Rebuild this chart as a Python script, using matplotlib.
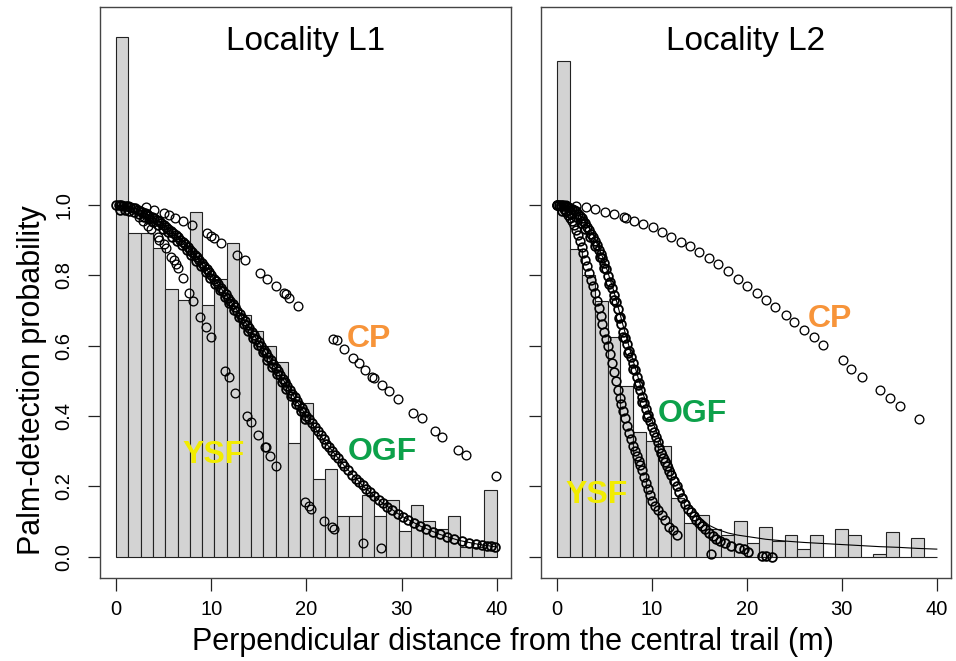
import numpy as np
import matplotlib
matplotlib.use('Agg')
import matplotlib.pyplot as plt

plt.rcParams['font.family'] = ['Liberation Sans', 'DejaVu Sans']

# histogram heights (scaled), L1 has 31 bins over 0-40 m, L2 has 30
hist_l1 = [1.476, 0.921, 0.921, 0.877, 0.760, 0.730, 0.980, 0.716, 0.790, 0.893,
           0.686, 0.642, 0.600, 0.553, 0.323, 0.437, 0.221, 0.249, 0.116, 0.116,
           0.176, 0.116, 0.162, 0.073, 0.146, 0.103, 0.080, 0.116, 0.029, 0.029, 0.190]
hist_l2 = [1.409, 0.874, 0.800, 0.727, 0.624, 0.485, 0.356, 0.330, 0.316, 0.167,
           0.096, 0.120, 0.080, 0.062, 0.102, 0.040, 0.086, 0.045, 0.061, 0.023,
           0.061, 0.0, 0.080, 0.061, 0.0, 0.008, 0.072, 0.0, 0.053, 0.0]

# L1 fitted detection probabilities per palm
cp1_x = [3.12, 3.93, 4.98, 5.58, 6.18, 7.05, 7.93, 9.54, 10.0, 10.3, 11.0, 12.7, 13.5,
         15.1, 15.9, 16.8, 17.6, 17.9, 18.2, 19.1, 22.8, 23.2, 23.9, 24.9, 25.5, 26.2,
         26.9, 27.1, 27.9, 28.7, 29.6, 31.2, 32.1, 33.5, 34.3, 35.9, 36.8, 39.9]
cp1_y = [0.995, 0.986, 0.976, 0.972, 0.962, 0.955, 0.943, 0.920, 0.912, 0.907, 0.893,
         0.858, 0.844, 0.808, 0.789, 0.770, 0.751, 0.746, 0.735, 0.713, 0.618, 0.615,
         0.591, 0.564, 0.550, 0.531, 0.512, 0.509, 0.489, 0.472, 0.448, 0.410, 0.394,
         0.358, 0.340, 0.304, 0.290, 0.231]

ysf1_x = [2.42, 2.87, 3.37, 3.65, 4.35, 4.53, 4.98, 5.23, 5.76, 6.03, 6.28, 6.46, 6.98,
          7.68, 8.03, 8.84, 9.44, 9.97, 11.4, 11.9, 12.5, 13.8, 14.2, 14.9, 15.6, 15.7,
          16.2, 16.8, 19.8, 20.3, 20.5, 21.8, 22.7, 22.9, 25.9, 27.8]
ysf1_y = [0.967, 0.955, 0.940, 0.931, 0.910, 0.901, 0.889, 0.877, 0.853, 0.844, 0.832,
          0.820, 0.792, 0.749, 0.727, 0.683, 0.654, 0.626, 0.528, 0.512, 0.465, 0.399,
          0.384, 0.347, 0.313, 0.311, 0.287, 0.259, 0.157, 0.145, 0.135, 0.103, 0.086,
          0.079, 0.039, 0.025]

ogf1_x = [0.00, 0.25, 0.50, 0.75, 1.00, 1.25, 1.50, 1.75, 2.00, 2.25, 2.50, 2.75, 3.00,
          3.25, 3.50, 3.75, 4.00, 4.25, 4.50, 4.75, 5.00, 5.25, 5.50, 5.75, 6.00, 6.25,
          6.50, 6.75, 7.00, 7.25, 7.50, 7.75, 8.00, 8.25, 8.50, 8.75, 9.00, 9.25, 9.50,
          9.75, 10.00, 10.25, 10.50, 10.75, 11.00, 11.25, 11.50, 11.75, 12.00, 12.25,
          12.50, 12.75, 13.00, 13.25, 13.50, 13.75, 14.00, 14.25, 14.50, 14.75, 15.00,
          15.25, 15.50, 15.75, 16.00, 16.25, 16.50, 16.75, 17.00, 17.25, 17.50, 17.75,
          18.00, 18.25, 18.50, 18.75, 19.00, 19.25, 19.50, 19.75, 20.00,
          20.3, 20.6, 20.9, 21.2, 21.5, 21.8, 22.1, 22.4, 22.7, 23.0, 23.3, 23.7, 24.0,
          24.4, 24.8, 25.2, 25.5, 25.9, 26.3, 26.7, 27.1, 27.6, 28.0, 28.5, 29.0, 29.6,
          30.1, 30.7, 31.3, 31.9, 32.6, 33.3, 34.0, 34.8, 35.5, 36.3, 37.1, 37.8, 38.5,
          39.0, 39.4, 39.8]
ogf1_y = [1.000, 0.999, 0.999, 0.998, 0.997, 0.996, 0.994, 0.992, 0.990, 0.987, 0.984,
          0.981, 0.978, 0.974, 0.970, 0.966, 0.962, 0.957, 0.953, 0.948, 0.943, 0.937,
          0.932, 0.926, 0.920, 0.914, 0.908, 0.901, 0.895, 0.888, 0.881, 0.873, 0.866,
          0.858, 0.851, 0.843, 0.835, 0.826, 0.818, 0.809, 0.800, 0.791, 0.783, 0.774,
          0.765, 0.756, 0.747, 0.737, 0.728, 0.719, 0.709, 0.700, 0.690, 0.680, 0.670,
          0.660, 0.650, 0.640, 0.630, 0.620, 0.610, 0.600, 0.589, 0.579, 0.568, 0.558,
          0.548, 0.537, 0.527, 0.517, 0.506, 0.496, 0.485, 0.475, 0.464, 0.454, 0.443,
          0.432, 0.422, 0.411, 0.400,
          0.392, 0.381, 0.370, 0.358, 0.347, 0.336, 0.322, 0.311, 0.300, 0.290, 0.280,
          0.268, 0.258, 0.246, 0.234, 0.222, 0.213, 0.203, 0.193, 0.183, 0.174, 0.162,
          0.153, 0.143, 0.134, 0.123, 0.114, 0.105, 0.096, 0.088, 0.080, 0.072, 0.064,
          0.057, 0.051, 0.045, 0.040, 0.037, 0.034, 0.032, 0.030, 0.029]
# second group of OGF palms in L1 (slightly lower probabilities, thickens the band)
ogf1b_x = [0.4, 0.9, 1.4, 1.9, 2.4, 2.9, 3.4, 3.9, 4.4, 4.9, 5.4, 5.9, 6.4, 6.9, 7.4,
           7.9, 8.4, 8.9, 9.4, 9.9, 10.4, 10.9, 11.4, 11.9, 12.4, 12.9, 13.4, 13.9,
           14.4, 14.9, 15.4, 15.9, 16.4, 16.9, 17.4, 17.9, 18.4, 18.9, 19.4, 19.9]
ogf1b_y = [0.987, 0.985, 0.982, 0.979, 0.973, 0.967, 0.960, 0.952, 0.942, 0.933, 0.922,
           0.910, 0.898, 0.886, 0.871, 0.857, 0.842, 0.826, 0.809, 0.792, 0.774, 0.757,
           0.738, 0.720, 0.701, 0.682, 0.662, 0.642, 0.622, 0.602, 0.581, 0.560, 0.540,
           0.519, 0.498, 0.477, 0.456, 0.435, 0.414, 0.392]

line1_x = [0, 2, 4, 6, 8, 10, 12, 14, 16, 18, 20, 22, 24, 26, 28, 30, 32, 34, 36, 38, 40]
line1_y = [1.0, 0.990, 0.962, 0.920, 0.866, 0.800, 0.728, 0.650, 0.568, 0.485, 0.400,
           0.325, 0.258, 0.200, 0.153, 0.116, 0.087, 0.064, 0.047, 0.036, 0.028]

# L2
cp2_x = [0.0, 1.0, 2.0, 3.05, 4.05, 5.1, 6.05, 7.1, 7.25, 8.15, 9.05, 10.1, 11.05, 12.0,
         13.05, 14.0, 15.0, 16.05, 17.0, 18.0, 19.05, 20.05, 21.05, 22.05, 23.0, 24.1,
         25.0, 26.0, 27.1, 28.05, 30.1, 31.0, 32.1, 34.05, 35.1, 36.1, 38.1]
cp2_y = [1.0, 0.999, 0.997, 0.993, 0.988, 0.981, 0.974, 0.967, 0.963, 0.955, 0.947,
         0.936, 0.924, 0.910, 0.896, 0.882, 0.867, 0.849, 0.832, 0.813, 0.790, 0.770,
         0.749, 0.730, 0.709, 0.687, 0.666, 0.645, 0.624, 0.602, 0.558, 0.535, 0.512,
         0.473, 0.451, 0.428, 0.391]

ysf2_x = [0.0, 0.4, 0.8, 1.0, 1.2, 1.4, 1.6, 1.8, 2.0, 2.2, 2.4, 2.6, 2.8, 3.0, 3.2, 3.4,
          3.6, 3.8, 4.0, 4.2, 4.4, 4.6, 4.8, 5.0, 5.2, 5.4, 5.6, 5.8, 6.0, 6.2, 6.4, 6.6,
          6.8, 7.0, 7.2, 7.4, 7.6, 7.8, 8.0, 8.2, 8.4, 8.6, 8.8, 9.0, 9.2, 9.4, 9.6, 9.8,
          10.0, 10.3, 10.6, 11.1, 11.4, 11.8, 12.2, 12.7, 16.2]
ysf2_y = [1.0, 0.997, 0.988, 0.980, 0.972, 0.964, 0.954, 0.942, 0.930, 0.914, 0.898,
          0.881, 0.863, 0.845, 0.826, 0.807, 0.788, 0.769, 0.750, 0.728, 0.706, 0.684,
          0.662, 0.640, 0.620, 0.600, 0.577, 0.551, 0.525, 0.499, 0.473, 0.451, 0.433,
          0.415, 0.394, 0.373, 0.353, 0.334, 0.315, 0.301, 0.287, 0.273, 0.260, 0.247,
          0.228, 0.209, 0.192, 0.176, 0.160, 0.145, 0.134, 0.119, 0.104, 0.086, 0.075,
          0.063, 0.008]

ogf2_x = [0.0, 0.2, 0.4, 0.6, 0.8, 1.0, 1.2, 1.4, 1.6, 1.8, 2.0, 2.2, 2.4, 2.6, 2.8, 3.0,
          3.2, 3.4, 3.6, 3.8, 4.0, 4.2, 4.4, 4.6, 4.8, 5.0, 5.2, 5.4, 5.6, 5.8, 6.0, 6.2,
          6.4, 6.6, 6.8, 7.0, 7.2, 7.4, 7.6, 7.8, 8.0, 8.2, 8.4, 8.6, 8.8, 9.0, 9.2, 9.4,
          9.6, 9.8, 10.0, 10.2, 10.4, 10.6, 10.8, 11.0, 11.2, 11.4, 11.6, 11.8, 12.0,
          12.3, 12.6, 12.9, 13.2, 13.5, 13.8, 14.1, 14.4, 14.7, 15.0, 15.3, 15.6, 16.0,
          16.4, 16.8, 17.2, 17.7, 18.3, 19.2, 19.7, 20.1, 21.6, 22.0, 22.6]
ogf2_y = [1.000, 1.000, 0.999, 0.999, 0.998, 0.997, 0.994, 0.991, 0.988, 0.985, 0.982,
          0.975, 0.968, 0.962, 0.955, 0.948, 0.938, 0.928, 0.918, 0.908, 0.898, 0.885,
          0.873, 0.860, 0.848, 0.835, 0.817, 0.799, 0.781, 0.763, 0.745, 0.724, 0.703,
          0.682, 0.661, 0.640, 0.622, 0.604, 0.586, 0.568, 0.550, 0.531, 0.512, 0.493,
          0.474, 0.455, 0.438, 0.421, 0.404, 0.387, 0.370, 0.355, 0.340, 0.325, 0.310,
          0.295, 0.282, 0.270, 0.257, 0.245, 0.232, 0.216, 0.200, 0.183, 0.168, 0.150,
          0.137, 0.128, 0.117, 0.106, 0.096, 0.087, 0.079, 0.068, 0.060, 0.052, 0.046,
          0.040, 0.032, 0.025, 0.021, 0.014, 0.003, 0.002, 0.001]
ogf2b_x = [0.5, 1.0, 1.5, 2.0, 2.5, 3.0, 3.5, 4.0, 4.5, 5.0, 5.5, 6.0, 6.5, 7.0, 7.5,
           8.0, 8.5, 9.0, 9.5]
ogf2b_y = [0.984, 0.982, 0.975, 0.967, 0.950, 0.933, 0.908, 0.883, 0.852, 0.820, 0.775,
           0.730, 0.678, 0.625, 0.580, 0.535, 0.488, 0.440, 0.398]

line2_x = [0, 1, 2, 3, 4, 5, 6, 7, 8, 9, 10, 11, 12, 13, 14, 15, 16, 17, 18, 19, 20,
           22, 24, 26, 28, 30, 32, 34, 36, 38, 40]
line2_y = [1.0, 0.997, 0.985, 0.955, 0.905, 0.840, 0.755, 0.655, 0.560, 0.470, 0.390,
           0.320, 0.270, 0.200, 0.148, 0.113, 0.090, 0.077, 0.068, 0.062, 0.058, 0.050,
           0.045, 0.041, 0.038, 0.035, 0.032, 0.029, 0.027, 0.024, 0.022]

titles = ['Locality L1', 'Locality L2']
group_names = ['CP', 'OGF', 'YSF']
group_colors = ['#F7943A', '#0CA14A', '#F2EC00']
# text anchor positions (data units) for the habitat labels
label_pos_l1 = [(26.55, 0.597), (28.0, 0.276), (10.25, 0.268)]
label_pos_l2 = [(28.8, 0.654), (14.24, 0.384), (4.19, 0.154)]

fig = plt.figure(figsize=(9.56, 6.61), dpi=100)
ax1 = fig.add_axes([0.1046, 0.1256, 0.4299, 0.8638])
ax2 = fig.add_axes([0.5656, 0.1256, 0.4292, 0.8638])

# (x, y, edge width): the dense bands get a heavier ring so they read as solid
panels = [
    (ax1, hist_l1, [(cp1_x, cp1_y, 0.95), (ysf1_x, ysf1_y, 0.95),
                    (ogf1_x, ogf1_y, 1.3), (ogf1b_x, ogf1b_y, 1.3)],
     (line1_x, line1_y), label_pos_l1),
    (ax2, hist_l2, [(cp2_x, cp2_y, 0.95), (ysf2_x, ysf2_y, 1.15),
                    (ogf2_x, ogf2_y, 1.3), (ogf2b_x, ogf2b_y, 1.3)],
     (line2_x, line2_y), label_pos_l2),
]

for i, (ax, hist, series, line, lpos) in enumerate(panels):
    edges = np.linspace(0, 40, len(hist) + 1)
    ax.bar(edges[:-1], hist, width=edges[1] - edges[0], align='edge',
           color='#D3D3D3', edgecolor='#222222', linewidth=0.8, zorder=1)
    ax.plot(line[0], line[1], color='black', lw=0.8, zorder=2)
    for sx, sy, ew in series:
        ax.plot(sx, sy, 'o', mfc='none', mec='black', ms=6.3, mew=ew, zorder=3)
    for name, col, (tx, ty) in zip(group_names, group_colors, lpos):
        ax.text(tx, ty, name, color=col, fontsize=23, fontweight='bold',
                ha='center', va='baseline', zorder=4)
    ax.text(0.5, 0.9247, titles[i], transform=ax.transAxes, fontsize=24,
            ha='center', va='baseline')
    ax.set_xlim(-1.7, 41.5)
    ax.set_ylim(-0.06, 1.5625)
    ax.set_xticks([0, 10, 20, 30, 40])
    ax.set_yticks([0.0, 0.2, 0.4, 0.6, 0.8, 1.0])
    ax.tick_params(direction='out', length=9, width=0.9, color='#222222',
                   labelsize=14.5, pad=7)
    for s in ax.spines.values():
        s.set_color('#444444')
        s.set_linewidth(1.0)

ax1.set_yticklabels(['0.0', '0.2', '0.4', '0.6', '0.8', '1.0'], rotation=90, va='center')
ax1.tick_params(axis='y', pad=10)
ax2.set_yticklabels([])

fig.text(0.033, 0.425, 'Palm-detection probability', rotation=90, fontsize=22,
         ha='center', va='center')
fig.text(0.537, 0.029, 'Perpendicular distance from the central trail (m)', fontsize=22,
         ha='center', va='center')

fig.savefig('out.png', dpi=100)
